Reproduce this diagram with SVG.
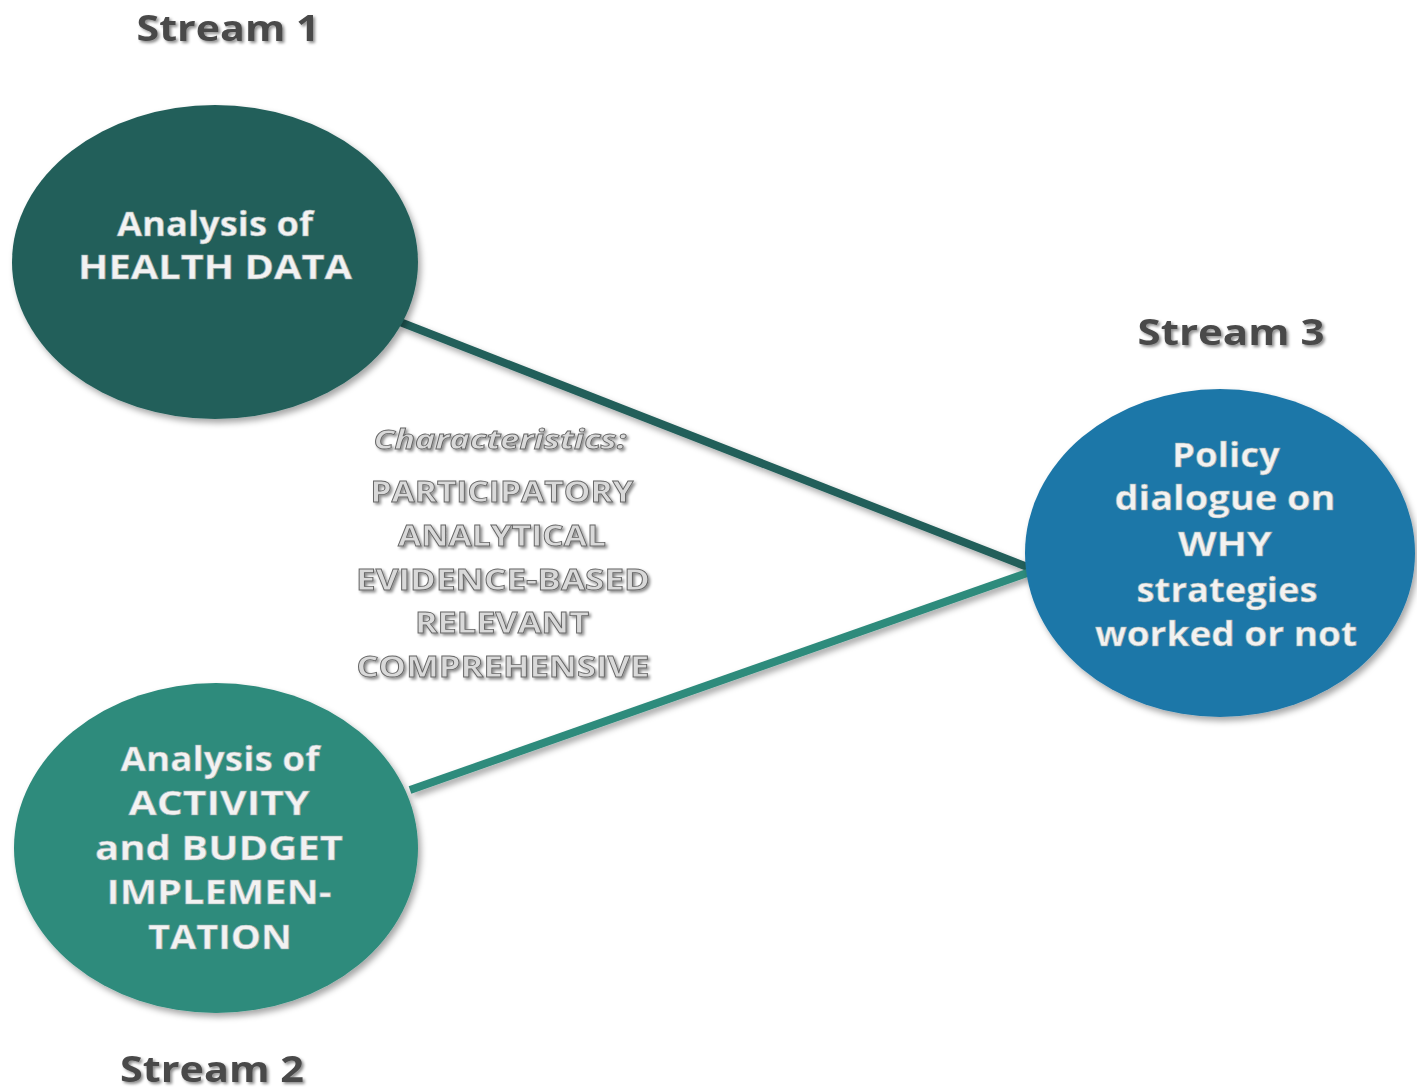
<svg xmlns="http://www.w3.org/2000/svg" width="1417" height="1091" viewBox="0 0 1417 1091">
<defs>
<filter id="sh" x="-10%" y="-10%" width="130%" height="130%">
<feDropShadow dx="3" dy="4" stdDeviation="3" flood-color="#000" flood-opacity="0.35"/>
</filter>
<filter id="tsh" x="-10%" y="-30%" width="130%" height="160%">
<feDropShadow dx="2" dy="2" stdDeviation="1.5" flood-color="#000" flood-opacity="0.45"/>
</filter>
</defs>
<style>
.stream{font-family:"Open Sans","Liberation Sans",sans-serif;font-weight:700;font-size:35px;fill:#4a4a4a;text-anchor:middle}
.node{font-family:"Open Sans","Liberation Sans",sans-serif;font-weight:700;font-size:34px;fill:#f2f2f2;stroke:#9aa;stroke-width:0.6;text-anchor:middle}
.char{font-family:"Open Sans","Liberation Sans",sans-serif;font-weight:700;font-size:28px;fill:#d9d9d9;stroke:#666;stroke-width:0.8;text-anchor:middle}
.chari{font-family:"Open Sans","Liberation Sans",sans-serif;font-style:italic;font-weight:700;font-size:26px;fill:#d9d9d9;stroke:#666;stroke-width:0.8;text-anchor:middle}
</style>
<rect width="1417" height="1091" fill="#ffffff"/>
<g id="connectors">
<line x1="400" y1="322" x2="1030" y2="568" stroke="#235f5a" stroke-width="8" filter="url(#sh)"/>
<line x1="410" y1="790" x2="1030" y2="572" stroke="#2e8b7c" stroke-width="8" filter="url(#sh)"/>
</g>
<g id="stream1">
<text class="stream" x="228" y="41" textLength="183" lengthAdjust="spacingAndGlyphs" filter="url(#tsh)">Stream 1</text>
<ellipse cx="215" cy="262" rx="203" ry="157" fill="#235f5a" filter="url(#sh)"/>
<text class="node" x="215" y="236" textLength="196" lengthAdjust="spacingAndGlyphs">Analysis of</text>
<text class="node" x="215" y="279" textLength="274" lengthAdjust="spacingAndGlyphs">HEALTH DATA</text>
</g>
<g id="stream2">
<ellipse cx="216" cy="848" rx="202" ry="165" fill="#2e8b7c" filter="url(#sh)"/>
<text class="node" x="220" y="771" textLength="199" lengthAdjust="spacingAndGlyphs">Analysis of</text>
<text class="node" x="219" y="815" textLength="181" lengthAdjust="spacingAndGlyphs">ACTIVITY</text>
<text class="node" x="219" y="860" textLength="248" lengthAdjust="spacingAndGlyphs">and BUDGET</text>
<text class="node" x="219" y="904" textLength="225" lengthAdjust="spacingAndGlyphs">IMPLEMEN-</text>
<text class="node" x="220" y="949" textLength="144" lengthAdjust="spacingAndGlyphs">TATION</text>
<text class="stream" x="212" y="1082" textLength="184" lengthAdjust="spacingAndGlyphs" filter="url(#tsh)">Stream 2</text>
</g>
<g id="stream3">
<text class="stream" x="1231" y="345" textLength="187" lengthAdjust="spacingAndGlyphs" filter="url(#tsh)">Stream 3</text>
<ellipse cx="1220" cy="553" rx="195" ry="164" fill="#1e77a8" filter="url(#sh)"/>
<text class="node" x="1226" y="467" textLength="108" lengthAdjust="spacingAndGlyphs">Policy</text>
<text class="node" x="1225" y="510" textLength="221" lengthAdjust="spacingAndGlyphs">dialogue on</text>
<text class="node" x="1225" y="556" textLength="94" lengthAdjust="spacingAndGlyphs">WHY</text>
<text class="node" x="1227" y="602" textLength="181" lengthAdjust="spacingAndGlyphs">strategies</text>
<text class="node" x="1226" y="646" textLength="262" lengthAdjust="spacingAndGlyphs">worked or not</text>
</g>
<g id="characteristics" filter="url(#tsh)">
<text class="chari" x="500" y="449" textLength="253" lengthAdjust="spacingAndGlyphs">Characteristics:</text>
<text class="char" x="502" y="502" textLength="263" lengthAdjust="spacingAndGlyphs">PARTICIPATORY</text>
<text class="char" x="502" y="546" textLength="208" lengthAdjust="spacingAndGlyphs">ANALYTICAL</text>
<text class="char" x="503" y="590" textLength="294" lengthAdjust="spacingAndGlyphs">EVIDENCE-BASED</text>
<text class="char" x="502" y="633" textLength="174" lengthAdjust="spacingAndGlyphs">RELEVANT</text>
<text class="char" x="503" y="677" textLength="293" lengthAdjust="spacingAndGlyphs">COMPREHENSIVE</text>
</g>
</svg>
